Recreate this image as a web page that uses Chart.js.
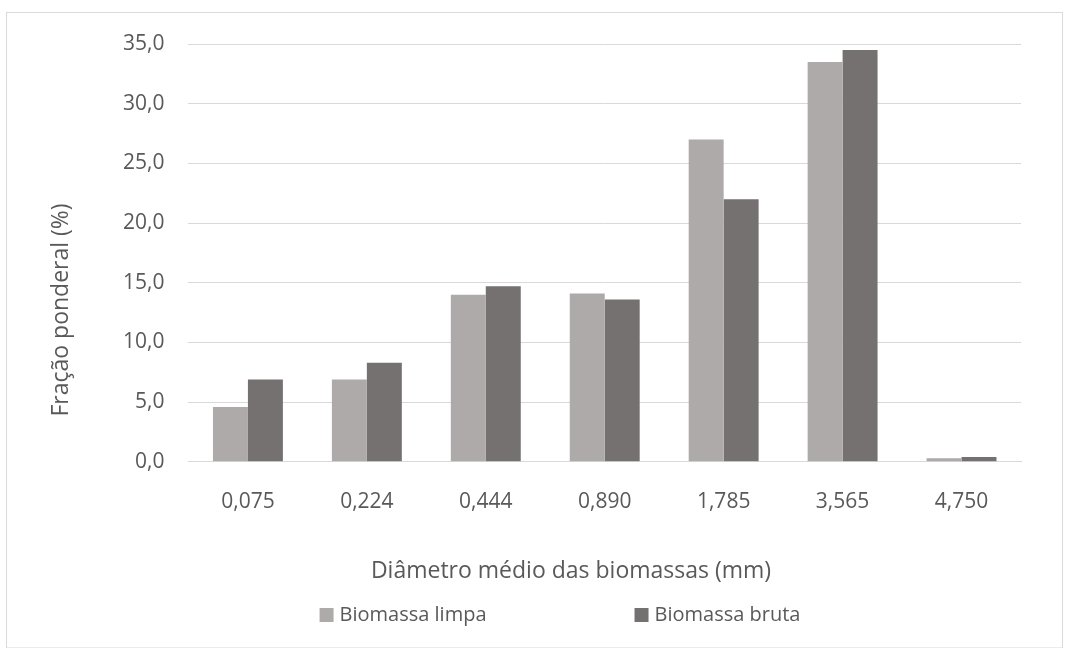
<!DOCTYPE html>
<html>
<head>
<meta charset="utf-8">
<script src="https://cdn.jsdelivr.net/npm/chart.js@4.4.1/dist/chart.umd.min.js"></script>
<style>
html, body { margin: 0; padding: 0; background: #fff; }
#wrap { width: 1069px; height: 648px; position: relative; }
</style>
</head>
<body>
<div id="wrap"><canvas id="granChart"></canvas></div>
<script>
const diametros = ["0,075", "0,224", "0,444", "0,890", "1,785", "3,565", "4,750"];
const biomassaLimpa = [4.6, 6.9, 14.0, 14.1, 27.0, 33.5, 0.3];
const biomassaBruta = [6.9, 8.3, 14.7, 13.6, 22.0, 34.5, 0.4];
const seriesNames = ["Biomassa limpa", "Biomassa bruta"];
const seriesColors = ["#AEAAAA", "#767171"];
const yTitle = "Fração ponderal (%)";
const xTitle = "Diâmetro médio das biomassas (mm)";

const textColor = "#595959";
const gridColor = "#D9D9D9";
const fontFamily = "'Open Sans', sans-serif";

// border, axis titles and legend drawn by hand so they sit like the Excel original
const chartExtras = {
    id: "chartExtras",
    beforeDraw(chart) {
        const ctx = chart.ctx;
        ctx.save();
        ctx.strokeStyle = gridColor;
        ctx.lineWidth = 1;
        ctx.strokeRect(6.5, 12.5, chart.width - 13, chart.height - 12.5);
        ctx.restore();
    },
    afterDraw(chart) {
        const ctx = chart.ctx;
        ctx.save();
        ctx.fillStyle = textColor;
        ctx.font = "23px " + fontFamily;
        ctx.textAlign = "center";
        ctx.textBaseline = "middle";

        ctx.save();
        ctx.translate(61, 310);
        ctx.rotate(-Math.PI / 2);
        ctx.fillText(yTitle, 0, 0);
        ctx.restore();

        ctx.fillText(xTitle, 571, 571);

        // legend
        ctx.font = "20px " + fontFamily;
        ctx.textAlign = "left";
        const box = 14, boxGap = 6, itemGap = 148, legendY = 615;
        const items = chart.data.datasets.map(ds => ({
            label: ds.label,
            color: ds.backgroundColor,
            w: box + boxGap + ctx.measureText(ds.label).width
        }));
        const total = items.reduce((s, it) => s + it.w, 0) + itemGap * (items.length - 1);
        let x = 560 - total / 2;
        items.forEach(it => {
            ctx.fillStyle = it.color;
            ctx.fillRect(x, legendY - box / 2, box, box);
            ctx.fillStyle = textColor;
            ctx.fillText(it.label, x + box + boxGap, legendY);
            x += it.w + itemGap;
        });
        ctx.restore();
    }
};

const granChart = document.getElementById("granChart");

new Chart(granChart, {
    type: "bar",
    data: {
        labels: diametros,
        datasets: [
            {
                label: seriesNames[0],
                data: biomassaLimpa,
                backgroundColor: seriesColors[0],
                barPercentage: 1,
                categoryPercentage: 0.588
            },
            {
                label: seriesNames[1],
                data: biomassaBruta,
                backgroundColor: seriesColors[1],
                barPercentage: 1,
                categoryPercentage: 0.588
            }
        ]
    },
    options: {
        responsive: true,
        maintainAspectRatio: false,
        animation: false,
        layout: {
            padding: { left: 99, right: 48, top: 44, bottom: 113 }
        },
        plugins: {
            legend: { display: false },
            tooltip: { enabled: false }
        },
        scales: {
            x: {
                grid: { display: false },
                border: { color: gridColor },
                ticks: {
                    color: textColor,
                    font: { family: fontFamily, size: 21 },
                    padding: 20
                }
            },
            y: {
                min: 0,
                max: 35,
                grid: { color: gridColor, drawTicks: false },
                border: { display: false },
                ticks: {
                    stepSize: 5,
                    color: textColor,
                    font: { family: fontFamily, size: 21 },
                    padding: 24,
                    callback: v => v.toFixed(1).replace(".", ",")
                }
            }
        }
    },
    plugins: [chartExtras]
});
</script>
</body>
</html>
